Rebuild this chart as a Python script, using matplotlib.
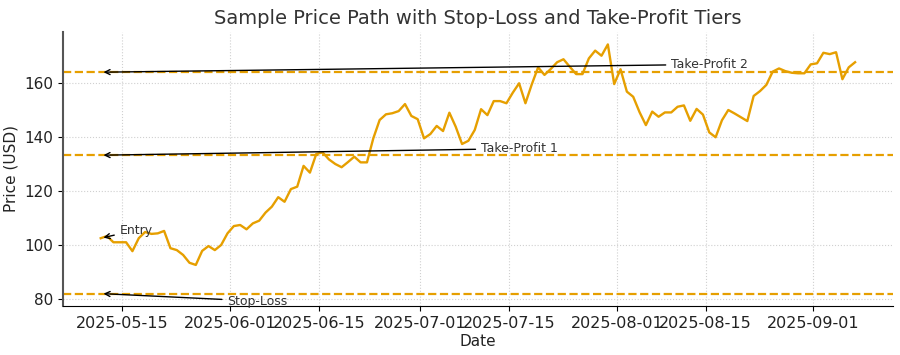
import pandas as pd
import matplotlib.pyplot as plt

# price path, one point a day
dates = pd.date_range("2025-05-11 14:00", periods=120, freq="D")
prices = [
    102.5, 103.3, 101.0, 101.0, 101.0, 97.7, 102.5, 104.8, 104.1, 104.3,
    105.2, 98.8, 98.1, 96.3, 93.4, 92.6, 97.8, 99.6, 98.1, 100.0,
    104.3, 107.0, 107.4, 105.8, 108.0, 109.0, 112.0, 114.2, 117.7, 116.0,
    120.7, 121.6, 129.3, 126.8, 133.7, 134.3, 131.7, 130.0, 128.8, 130.7,
    132.7, 130.6, 130.6, 139.5, 146.3, 148.4, 148.8, 149.6, 152.2, 147.8,
    146.6, 139.5, 141.1, 144.1, 142.2, 149.0, 143.8, 137.4, 138.6, 142.6,
    150.3, 148.1, 153.3, 153.3, 152.5, 156.4, 159.9, 152.5, 159.5, 165.8,
    163.0, 165.2, 167.7, 168.8, 166.0, 163.3, 163.3, 169.1, 172.0, 170.1,
    174.3, 159.6, 165.1, 156.8, 154.9, 149.2, 144.4, 149.4, 147.5, 149.1,
    149.1, 151.2, 151.7, 146.0, 150.4, 148.3, 141.7, 139.9, 146.2, 150.0,
    148.7, 147.3, 145.9, 155.2, 157.0, 159.3, 164.2, 165.4, 164.4, 163.8,
    163.6, 163.6, 166.9, 167.3, 171.2, 170.7, 171.4, 161.4, 165.8, 167.7,
]

entry = 102.5
stop_loss = 82.0
take_profit_1 = 133.25
take_profit_2 = 164.0

orange = "#E69F00"

fig, ax = plt.subplots(figsize=(9, 3.55), dpi=100)
fig.subplots_adjust(left=0.07, right=0.992, top=0.91, bottom=0.138)

ax.plot(dates, prices, color=orange, linewidth=1.7)
for level in [stop_loss, take_profit_1, take_profit_2]:
    ax.axhline(level, color=orange, linestyle="--", linewidth=1.6)

arrow = dict(arrowstyle="->", color="black", linewidth=1)
ax.annotate("Entry", xy=(dates[0], entry), xytext=(dates[3], 104.2),
            fontsize=9, color="#333333", arrowprops=arrow)
ax.annotate("Stop-Loss", xy=(dates[0], stop_loss), xytext=(dates[20], 77.9),
            fontsize=9, color="#333333", arrowprops=arrow)
ax.annotate("Take-Profit 1", xy=(dates[0], take_profit_1), xytext=(dates[60], 134.4),
            fontsize=9, color="#333333", arrowprops=arrow)
ax.annotate("Take-Profit 2", xy=(dates[0], take_profit_2), xytext=(dates[90], 165.6),
            fontsize=9, color="#333333", arrowprops=arrow)

ax.set_title("Sample Price Path with Stop-Loss and Take-Profit Tiers",
             fontsize=14, color="#333333")
ax.set_xlabel("Date", fontsize=11, labelpad=2, color="#222222")
ax.set_ylabel("Price (USD)", fontsize=11, color="#222222")
ax.tick_params(axis="x", labelsize=11.5, labelcolor="#222222")
ax.tick_params(axis="y", labelsize=11, labelcolor="#222222")
ax.grid(True, linestyle=":", color="#d0d0d0", linewidth=0.8)
ax.spines["top"].set_visible(False)
ax.spines["right"].set_visible(False)
ax.spines["left"].set_color("#555555")
ax.spines["left"].set_linewidth(1.5)

ticks = pd.to_datetime(["2025-05-15", "2025-06-01", "2025-06-15", "2025-07-01",
                        "2025-07-15", "2025-08-01", "2025-08-15", "2025-09-01"])
ax.set_xticks(ticks)
ax.set_xticklabels([t.strftime("%Y-%m-%d") for t in ticks])

plt.savefig("out.png")
